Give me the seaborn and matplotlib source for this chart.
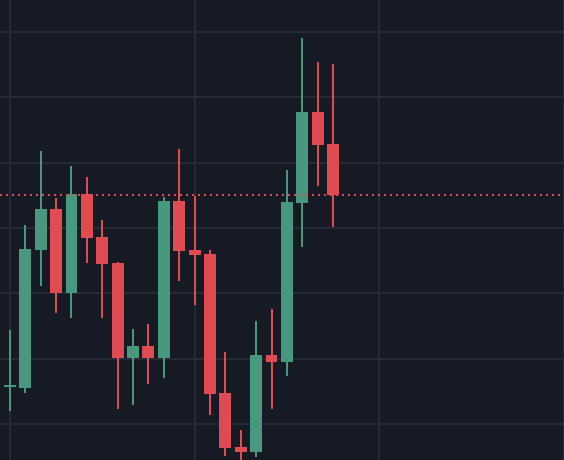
import seaborn as sns
import matplotlib
matplotlib.use("Agg")
import matplotlib.pyplot as plt
import numpy as np
import pandas as pd

# candle values (price units are arbitrary)
opens = [105.6, 105.5, 126.6, 132.9, 120.1, 135.2, 128.6, 124.6, 110.1, 111.9, 110.1,
         134.1, 126.6, 126.0, 104.8, 96.5, 95.7, 110.6, 109.5, 133.8, 147.8, 142.9]
highs = [114.4, 130.5, 141.8, 134.6, 139.5, 137.8, 131.2, 124.8, 114.5, 115.3, 134.8,
         142.1, 134.9, 126.6, 111.0, 99.1, 115.8, 117.6, 138.9, 159.1, 155.4, 155.1]
lows = [102.0, 104.8, 121.1, 117.0, 116.2, 124.6, 116.2, 102.3, 102.9, 106.1, 107.0,
        121.9, 118.2, 101.4, 95.1, 93.0, 95.0, 102.3, 107.4, 127.1, 136.4, 130.2]
closes = [105.7, 126.8, 132.9, 120.1, 135.2, 128.5, 124.5, 110.1, 111.9, 110.1, 134.1,
          126.5, 125.9, 104.6, 96.3, 95.7, 110.6, 109.5, 134.0, 147.8, 142.7, 135.1]

df = pd.DataFrame({"open": opens, "high": highs, "low": lows, "close": closes})
df["t"] = np.arange(len(df))
df["up"] = df["close"] >= df["open"]

bg = "#161a25"
grid = "#262a35"
green = "#47987f"
red = "#e04b51"

sns.set_theme(style="dark", rc={
    "axes.facecolor": bg,
    "figure.facecolor": bg,
    "axes.edgecolor": bg,
    "grid.color": grid,
})

# 4.601 so the saved height rounds to 460 px, not 459
fig = plt.figure(figsize=(5.64, 4.601), dpi=100)
ax = fig.add_axes([0, 0, 1, 1])

colors = np.where(df["up"], green, red)
body_lo = df[["open", "close"]].min(axis=1)
body_h = (df["close"] - df["open"]).abs().clip(lower=0.3)

# wicks then bodies
ax.vlines(df["t"], df["low"], df["high"], colors=colors, linewidth=1.44, zorder=2)
ax.bar(df["t"], body_h, bottom=body_lo, width=0.77, color=colors, linewidth=0, zorder=3)

# last price line
ax.axhline(df["close"].iloc[-1], color=red, linewidth=1.44,
           linestyle=(0, (1, 2)), zorder=4)

ax.set_xlim(-0.642, 35.58)
ax.set_ylim(94.49, 164.9)
ax.set_xticks([0, 12, 24, 36])
ax.set_yticks(np.arange(100, 161, 10))
ax.grid(True, color=grid, linewidth=1.44, zorder=0)
ax.set_axisbelow(True)
ax.tick_params(length=0, labelbottom=False, labelleft=False)
for s in ax.spines.values():
    s.set_visible(False)

fig.savefig("out.png", dpi=100, facecolor=bg)
